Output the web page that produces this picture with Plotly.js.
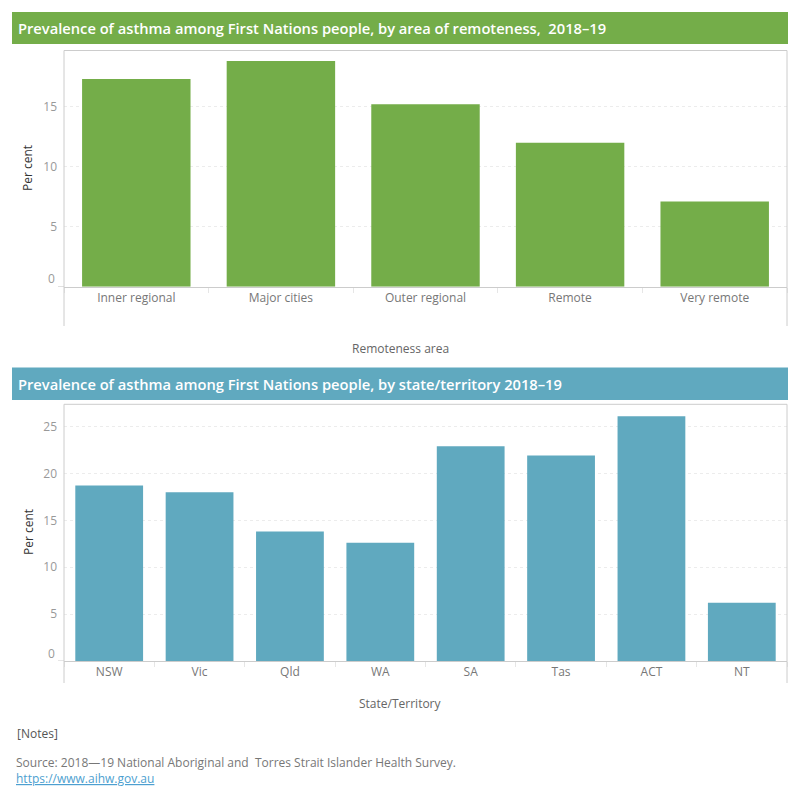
<!DOCTYPE html>
<html>
<head>
<meta charset="utf-8">
<script src="https://cdn.plot.ly/plotly-3.0.1.min.js"></script>
<style>
  html, body { margin: 0; padding: 0; background: #fff; }
  #chart { width: 800px; height: 800px; }
</style>
</head>
<body>
<div id="chart"></div>
<script>
// Asthma prevalence among First Nations people, 2018–19 (per cent)
const remotenessAreas = ['Inner regional', 'Major cities', 'Outer regional', 'Remote', 'Very remote'];
const remotenessPct = [17.3, 18.8, 15.2, 12.0, 7.1];

const states = ['NSW', 'Vic', 'Qld', 'WA', 'SA', 'Tas', 'ACT', 'NT'];
const statePct = [18.7, 18.0, 13.8, 12.6, 22.9, 21.9, 26.1, 6.2];

const yTicks = [5, 10, 15, 20, 25];

const GREEN = '#74ad49';
const TEAL = '#60a9bf';
const FONT = '"Open Sans", "Noto Sans", sans-serif';
const W = 800, H = 800;

// pixel helpers for paper coordinates
const px = v => v / W;
const py = v => 1 - v / H;

const plotLeft = 64, plotRight = 787;
const top1 = 50.5, base1 = 286.7, frameBottom1 = 326;
const top2 = 404.3, base2 = 661, frameBottom2 = 683;

const traces = [
  {
    type: 'bar', x: remotenessAreas, y: remotenessPct,
    xaxis: 'x', yaxis: 'y',
    marker: { color: GREEN }, width: 0.75,
    hoverinfo: 'x+y'
  },
  {
    type: 'bar', x: states, y: statePct,
    xaxis: 'x2', yaxis: 'y2',
    marker: { color: TEAL }, width: 0.75,
    hoverinfo: 'x+y'
  }
];

const xCommon = {
  type: 'category',
  domain: [px(plotLeft), px(plotRight)],
  showline: true, linecolor: '#cccccc', linewidth: 1,
  showgrid: false, zeroline: false,
  ticks: 'outside', tickson: 'boundaries', ticklen: 5, tickcolor: '#e6e6e6',
  tickfont: { family: FONT, size: 12, color: '#777777' },
  fixedrange: true
};

const yCommon = {
  showline: false, zeroline: false,
  showgrid: true, gridcolor: '#ececec', griddash: 'dot', gridwidth: 1,
  tickmode: 'array',
  ticks: '', ticklabelstandoff: 6,
  tickfont: { family: FONT, size: 12, color: '#999999' },
  fixedrange: true
};

function note(text, x, y, font, extra) {
  return Object.assign({
    xref: 'paper', yref: 'paper', x: px(x), y: py(y),
    xanchor: 'center', yanchor: 'middle', showarrow: false,
    text: text, font: font
  }, extra || {});
}

const headFont = { family: FONT, size: 14.7, color: '#ffffff', weight: 600 };
const axisTitleFont = { family: FONT, size: 12, color: '#333333' };
const xTitleFont = { family: FONT, size: 12, color: '#666666' };

const layout = {
  width: W, height: H,
  margin: { l: 0, r: 0, t: 0, b: 0 },
  paper_bgcolor: '#ffffff', plot_bgcolor: '#ffffff',
  showlegend: false,
  bargap: 0.25,
  xaxis: Object.assign({}, xCommon, { anchor: 'y' }),
  yaxis: Object.assign({}, yCommon, {
    anchor: 'x', domain: [py(base1), py(top1)],
    range: [0, 19.68], tickvals: yTicks.filter(v => v < 19)
  }),
  xaxis2: Object.assign({}, xCommon, { anchor: 'y2' }),
  yaxis2: Object.assign({}, yCommon, {
    anchor: 'x2', domain: [py(base2), py(top2)],
    range: [0, 27.37], tickvals: yTicks
  }),
  shapes: [
    // heading bars
    { type: 'rect', xref: 'paper', yref: 'paper', x0: px(12), x1: px(788), y0: py(44), y1: py(12),
      fillcolor: GREEN, line: { width: 0 }, layer: 'below' },
    { type: 'rect', xref: 'paper', yref: 'paper', x0: px(12), x1: px(788), y0: py(400), y1: py(367.5),
      fillcolor: TEAL, line: { width: 0 }, layer: 'below' },
    // pane frames (top, left, right)
    { type: 'path', xref: 'paper', yref: 'paper',
      path: `M ${px(plotLeft)} ${py(frameBottom1)} L ${px(plotLeft)} ${py(top1)} L ${px(plotRight)} ${py(top1)} L ${px(plotRight)} ${py(frameBottom1)}`,
      line: { color: '#cccccc', width: 1 } },
    { type: 'path', xref: 'paper', yref: 'paper',
      path: `M ${px(plotLeft)} ${py(frameBottom2)} L ${px(plotLeft)} ${py(top2)} L ${px(plotRight)} ${py(top2)} L ${px(plotRight)} ${py(frameBottom2)}`,
      line: { color: '#cccccc', width: 1 } },
    // baseline stubs left of the panes
    { type: 'line', xref: 'paper', yref: 'y', x0: px(58), x1: px(plotLeft), y0: 0, y1: 0,
      line: { color: '#cccccc', width: 1 } },
    { type: 'line', xref: 'paper', yref: 'y2', x0: px(58), x1: px(plotLeft), y0: 0, y1: 0,
      line: { color: '#cccccc', width: 1 } }
  ],
  annotations: [
    // headings
    note('Prevalence of asthma among First Nations people, by area of remoteness,\u00a0 2018–19',
         16, 28, headFont, { xanchor: 'left' }),
    note('Prevalence of asthma among First Nations people, by state/territory 2018–19',
         16, 384, headFont, { xanchor: 'left' }),
    // zero labels sit just above the baseline
    { xref: 'paper', yref: 'y', x: px(57), y: 0, xanchor: 'right', yanchor: 'middle', yshift: 8,
      text: '0', showarrow: false, font: { family: FONT, size: 12, color: '#999999' } },
    { xref: 'paper', yref: 'y2', x: px(57), y: 0, xanchor: 'right', yanchor: 'middle', yshift: 8,
      text: '0', showarrow: false, font: { family: FONT, size: 12, color: '#999999' } },
    // axis titles
    note('Per cent', 28, 168, axisTitleFont, { textangle: -90 }),
    note('Per cent', 28, 532, axisTitleFont, { textangle: -90 }),
    note('Remoteness area', 400, 348, xTitleFont),
    note('State/Territory', 400, 703, xTitleFont),
    // footer
    note('[Notes]', 15, 733, { family: FONT, size: 12, color: '#555555' }, { xanchor: 'left' }),
    note('Source: 2018—19 National Aboriginal and\u00a0 Torres Strait Islander Health Survey.',
         14, 762, { family: FONT, size: 12, color: '#777777' }, { xanchor: 'left' }),
    note('<u>https://www.aihw.gov.au</u>', 14, 778,
         { family: FONT, size: 12, color: '#4d9fd0' }, { xanchor: 'left' })
  ]
};

Plotly.newPlot('chart', traces, layout, { displayModeBar: false });
</script>
</body>
</html>
